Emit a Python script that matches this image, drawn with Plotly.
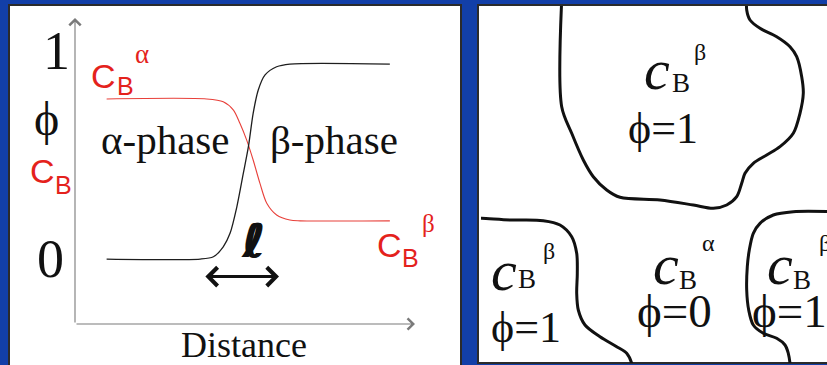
import plotly.graph_objects as go

# ---- concentration / order-parameter profile across the interface ----
distance_phi = [0.93, 3.68, 4.07, 4.36, 4.56, 4.76, 4.95, 5.10, 5.24, 5.39, 5.59, 5.93, 6.32, 9.26]
phi_values = [0.0, 0.0, 0.012, 0.063, 0.132, 0.268, 0.439, 0.576, 0.747, 0.867, 0.944, 0.986, 1.0, 1.0]

distance_c = [0.93, 3.87, 4.36, 4.66, 4.85, 5.05, 5.24, 5.44, 5.64, 5.93, 6.32, 6.62, 9.26]
cB_values = [0.821, 0.821, 0.807, 0.764, 0.696, 0.610, 0.508, 0.388, 0.286, 0.226, 0.200, 0.196, 0.196]

# interface width marker (distance units)
ell_start, ell_end = 3.79, 6.00
ell_level = -0.09

# ---- microstructure grain boundaries (panel-local units) ----
grain_top_x = [80.7, 80.7, 90.7, 102.3, 112.3, 125.7, 139.0, 179.0, 212.3, 232.3, 245.7, 255.7, 260.7,
               264.0, 272.3, 285.7, 299.0, 312.3, 319.0, 322.3, 320.7, 315.7, 309.0, 295.7, 279.0,
               269.0, 265.7, 265.7]
grain_top_y = [-6.0, 100.7, 127.3, 154.0, 170.7, 184.0, 191.3, 194.0, 199.0, 202.3, 199.0, 190.7,
               177.3, 167.3, 157.3, 149.0, 140.7, 127.3, 107.3, 87.3, 70.7, 50.7, 40.7, 30.7, 22.3,
               14.0, 4.0, -6.0]

grain_left_x = [-5.0, 0.7, 29.0, 62.3, 79.0, 90.7, 95.7, 96.3, 95.7, 97.3, 104.0, 119.0, 135.7, 145.7, 150.7, 152.0]
grain_left_y = [212.3, 212.3, 214.0, 214.7, 219.0, 230.7, 247.3, 267.3, 287.3, 304.0, 319.0, 330.7,
                340.7, 347.3, 357.3, 365.0]

grain_right_x = [352.0, 312.3, 292.3, 279.0, 272.3, 268.3, 266.3, 265.7, 267.7, 272.3, 282.3, 295.7,
                 304.0, 307.3, 309.0, 309.5]
grain_right_y = [205.7, 205.7, 209.0, 217.3, 227.3, 244.0, 260.7, 284.0, 304.0, 319.0, 327.3, 332.3,
                 339.0, 347.3, 357.3, 365.0]

W, H = 827, 365
BLUE = "#123FA8"
RED = "#E4221C"
SERIF = "Liberation Serif"
SANS = "Liberation Sans"

fig = go.Figure()

# profile curves
fig.add_trace(go.Scatter(x=distance_c, y=cB_values, mode="lines",
                         line=dict(color="#E8403A", width=1.1, shape="spline", smoothing=0.8),
                         xaxis="x", yaxis="y", hoverinfo="skip"))
fig.add_trace(go.Scatter(x=distance_phi, y=phi_values, mode="lines",
                         line=dict(color="#1E1E1E", width=1.3, shape="spline", smoothing=0.8),
                         xaxis="x", yaxis="y", hoverinfo="skip"))

# grain boundaries
for gx, gy in [(grain_top_x, grain_top_y), (grain_left_x, grain_left_y), (grain_right_x, grain_right_y)]:
    fig.add_trace(go.Scatter(x=gx, y=gy, mode="lines",
                             line=dict(color="#111111", width=3, shape="spline", smoothing=0.9),
                             xaxis="x3", yaxis="y3", hoverinfo="skip"))


def px(x):
    return x / W


def py(y):
    return 1 - y / H


# white panels behind everything
for x0, x1, y0, y1 in [(9, 461, 5, 372), (478, 832, 5, 363)]:
    fig.add_shape(type="rect", xref="paper", yref="paper", x0=px(x0), x1=px(x1), y0=py(y1), y1=py(y0),
                  fillcolor="white", line=dict(color="#2B2B2B", width=2), layer="below")

ann = []


def txt(x, y, s, size, color="#111111", family=SERIF, xanchor="center", **font_extra):
    ann.append(dict(x=px(x), y=py(y), xref="paper", yref="paper", text=s, showarrow=False,
                    font=dict(family=family, size=size, color=color, **font_extra),
                    xanchor=xanchor, yanchor="middle", borderpad=0, borderwidth=0))


# axes with arrowheads
ann.append(dict(x=0, y=1.236, ax=0, ay=-0.333, xref="x", yref="y", axref="x", ayref="y",
                text="", showarrow=True, arrowhead=4, arrowsize=2, arrowwidth=1.1,
                arrowcolor="#7A7A7A"))
ann.append(dict(x=10, y=-0.333, ax=0, ay=-0.333, xref="x", yref="y", axref="x", ayref="y",
                text="", showarrow=True, arrowhead=4, arrowsize=2, arrowwidth=1.1,
                arrowcolor="#7A7A7A"))
# interface width arrow
ann.append(dict(x=ell_end, y=ell_level, ax=ell_start, ay=ell_level, xref="x", yref="y",
                axref="x", ayref="y", text="", showarrow=True, arrowhead=4, arrowside="end+start",
                arrowsize=1.2, arrowwidth=3, arrowcolor="#111111"))

# left panel labels
txt(56, 51, "1", 54)
txt(46, 118, "ϕ", 48)
txt(50, 259, "0", 54)
txt(103, 76, "C", 34, RED, SANS)
txt(125, 86, "B", 25, RED, SANS)
txt(142, 54, "α", 27, RED)
txt(42, 171, "C", 34, RED, SANS)
txt(63, 185, "B", 25, RED, SANS)
txt(389, 245, "C", 34, RED, SANS)
txt(410, 258, "B", 25, RED, SANS)
txt(428, 223, "β", 25, RED)
txt(165, 140, "α-phase", 41)
txt(334, 140, "β-phase", 41)
txt(254, 241, "ℓ", 46, family="DejaVu Sans", weight="bold", style="italic",
    shadow="1px 0 0 #111111, -1px 0 0 #111111")
txt(244, 345, "Distance", 36)


# right panel labels: concentration symbol over the order-parameter value
def region_label(c_xy, b_xy, sup, sup_xy, phi_text, phi_xy, phi_size, xanchor="center"):
    txt(c_xy[0], c_xy[1], "<i>c</i>", 58)
    txt(b_xy[0], b_xy[1], "B", 27)
    txt(sup_xy[0], sup_xy[1], sup, 24)
    txt(phi_xy[0], phi_xy[1], "ϕ=" + phi_text, phi_size, xanchor=xanchor)


region_label((657, 69), (681, 83), "β", (700, 52), "1", (663, 128), 44)
region_label((504, 270), (527, 279), "β", (549, 251), "1", (526, 327), 44)
region_label((666, 264), (688, 280), "α", (708, 243), "0", (674, 311), 47)
region_label((780, 264), (802, 280), "β", (825, 243), "1", (752, 311), 47, xanchor="left")

fig.update_layout(
    width=W, height=H,
    margin=dict(l=0, r=0, t=0, b=0),
    paper_bgcolor=BLUE, plot_bgcolor="rgba(0,0,0,0)",
    showlegend=False,
    annotations=ann,
    xaxis=dict(domain=[75 / W, 415 / W], range=[0, 10], visible=False, fixedrange=True),
    yaxis=dict(domain=[(H - 324) / H, (H - 18) / H], range=[-0.333, 1.236], visible=False,
               fixedrange=True),
    xaxis3=dict(domain=[481 / W, 1], range=[0, W - 481], visible=False, anchor="y3", fixedrange=True),
    yaxis3=dict(domain=[(H - 363) / H, (H - 6) / H], range=[357, 0], visible=False, anchor="x3",
                fixedrange=True),
)

fig.write_html("out.html", config={"displayModeBar": False})
